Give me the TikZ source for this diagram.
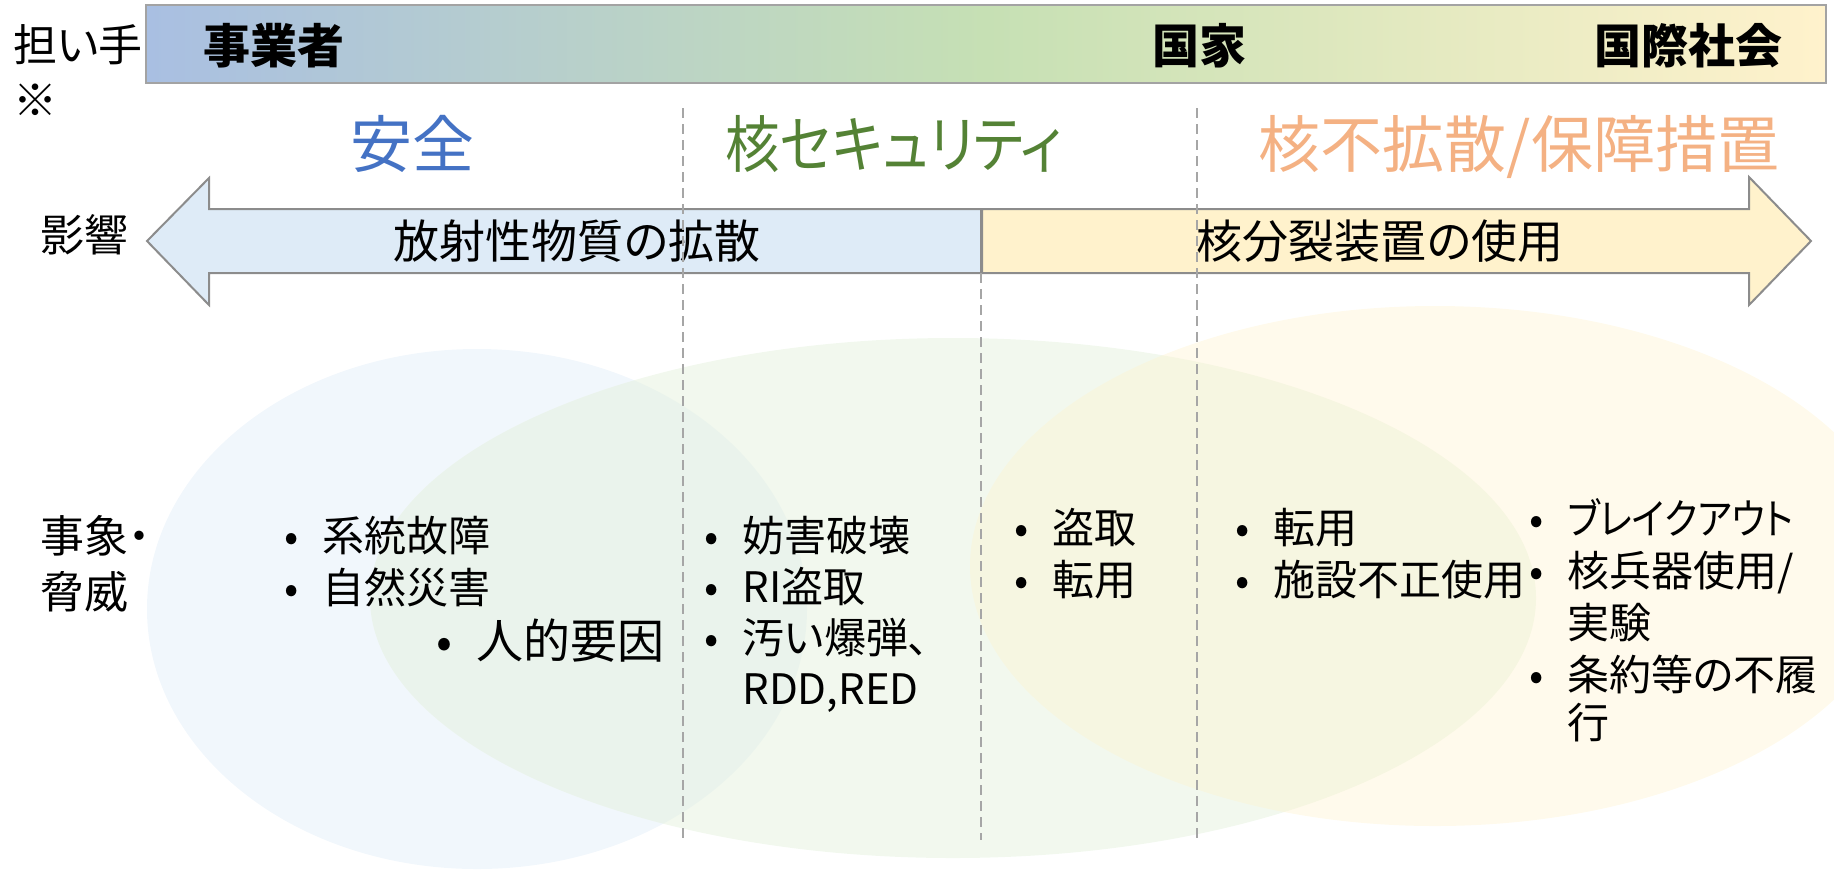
\documentclass[tikz,border=0pt]{standalone}
\usepackage{fontspec}
\newfontfamily\jp[RawFeature=+palt]{Noto Sans CJK JP}
\definecolor{barL}{HTML}{A9BFE2}
\definecolor{barM}{HTML}{C6E0B4}
\definecolor{barR}{HTML}{FFF2CC}
\definecolor{blueE}{HTML}{DEEBF7}
\definecolor{greenE}{HTML}{E2F0D9}
\definecolor{yellowE}{HTML}{FFF2CC}
\definecolor{arrB}{HTML}{DEEBF7}
\definecolor{arrY}{HTML}{FFF2CC}
\definecolor{edge}{HTML}{8C8C8C}
\definecolor{dashc}{HTML}{A6A6A6}
\definecolor{cBlue}{HTML}{4472C4}
\definecolor{cGreen}{HTML}{548235}
\definecolor{cOrange}{HTML}{F4B183}
\newcommand\mybul{\llap{•\hspace{12pt}}}
\begin{document}
\begin{tikzpicture}[x=0.5pt,y=-0.5pt,
  jt/.style={font=\jp\fontsize{#1}{#1}\selectfont, inner sep=0pt, text height={0.88*#1}, text depth={0.12*#1}},
  barlbl/.style={inner sep=0pt, text height={0.88*23.5pt}, text depth={0.12*23.5pt}, font=\jp\bfseries\fontsize{23.5pt}{23.5pt}\selectfont},
  li/.style={jt=21pt, anchor=west},
  side/.style={jt=22pt, anchor=west},
  head/.style={jt=31pt},
  arrowshape/.style={draw=edge, line width=1pt, line join=miter},
  dl/.style={draw=dashc, line width=0.7pt, dash pattern=on 5pt off 3pt}
]
\useasboundingbox (0,0) rectangle (1834,869);

% ellipses
\fill[blueE, fill opacity=0.42] (477,609) ellipse [x radius=330, y radius=260];
\fill[greenE, fill opacity=0.45] (953,598) ellipse [x radius=583, y radius=260];
\fill[yellowE, fill opacity=0.38] (1435,566) ellipse [x radius=465, y radius=260];

% top bar
\node[draw=edge!80, line width=1pt, left color=barL, right color=barR, middle color=barM,
      minimum width=840pt, minimum height=39pt, inner sep=0pt] (bar) at (986,44) {};
\node[barlbl] (jigyo) at (274,46) {事業者};
\node[barlbl] (kokka) at (1199,46) {国家};
\node[barlbl] (kokusai) at (1688,46) {国際社会};

\node[side] (ninaite) at (13,45) {担い手};
\node[side] (kome) at (13,100) {※};

% headings
\node[head, text=cBlue] (anzen) at (412,144) {安全};
\node[head, text=cGreen] (nsec) at (894,144) {\scalebox{0.88}[1]{核セキュリティ}};
\node[head, text=cOrange] (nnp) at (1519,144) {核不拡散/保障措置};

% double arrow
\draw[arrowshape, fill=arrB] (147,241) -- (209,178) -- (209,209) -- (981,209) -- (981,273) -- (209,273) -- (209,305) -- cycle;
\draw[arrowshape, fill=arrY] (982,209) -- (1749,209) -- (1749,177) -- (1811,241) -- (1749,305) -- (1749,273) -- (982,273) -- cycle;
\node[jt=23pt] (spread) at (577,241) {放射性物質の拡散};
\node[jt=23pt] (fission) at (1380,241) {核分裂装置の使用};
\node[side] (eikyo) at (40,235) {影響};

% dashed separators
\draw[dl] (683,108) -- (683,840);
\draw[dl] (981,273) -- (981,840);
\draw[dl] (1197,108) -- (1197,840);

% events / threats
\node[side] (jisho) at (40,536) {事象・};
\node[side] (kyoi) at (40,592) {脅威};

\node[li] (a1) at (322,536) {\mybul 系統故障};
\node[li] (a2) at (322,588) {\mybul 自然災害};
\node[jt=23.5pt, anchor=west] (a3) at (476,641) {\mybul 人的要因};

\node[li] (b1) at (742,536) {\mybul 妨害破壊};
\node[li] (b2) at (742,587) {\mybul RI盗取};
\node[li] (b3) at (742,638) {\mybul 汚い爆弾、};
\node[li] (b4) at (742,689) {RDD,RED};

\node[li] (c1) at (1052,528) {\mybul 盗取};
\node[li] (c2) at (1052,580) {\mybul 転用};

\node[li] (d1) at (1273,528) {\mybul 転用};
\node[li] (d2) at (1273,580) {\mybul 施設不正使用};

\node[li] (e1) at (1567,519) {\mybul \scalebox{0.88}[1]{ブレイクアウト}};
\node[li] (e2) at (1567,571) {\mybul 核兵器使用/};
\node[li] (e3) at (1567,623) {実験};
\node[li] (e4) at (1567,675) {\mybul 条約等の不履};
\node[li] (e5) at (1567,723) {行};
\end{tikzpicture}
\end{document}
